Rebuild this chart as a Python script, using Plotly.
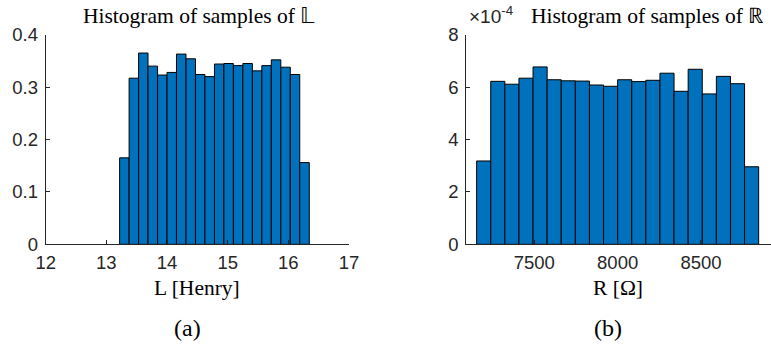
import plotly.graph_objects as go
import numpy as np

# ---------------- data ----------------
L_bin_edges = [13.219, 13.375, 13.531, 13.687, 13.844, 14.000, 14.156, 14.313,
               14.469, 14.625, 14.782, 14.938, 15.094, 15.250, 15.407, 15.563,
               15.719, 15.876, 16.032, 16.188, 16.345]
L_density = [0.165, 0.317, 0.365, 0.340, 0.323, 0.328, 0.363, 0.354, 0.324, 0.320,
             0.344, 0.345, 0.341, 0.345, 0.331, 0.341, 0.352, 0.338, 0.324, 0.156]

R_bin_edges = [7154.0, 7238.6, 7323.2, 7407.8, 7492.4, 7577.0, 7661.6, 7746.2,
               7830.8, 7915.4, 8000.0, 8084.6, 8169.2, 8253.8, 8338.4, 8423.0,
               8507.6, 8592.2, 8676.8, 8761.4, 8846.0]
R_density = [3.18e-4, 6.22e-4, 6.11e-4, 6.34e-4, 6.77e-4, 6.28e-4, 6.24e-4, 6.23e-4,
             6.08e-4, 6.03e-4, 6.28e-4, 6.21e-4, 6.26e-4, 6.53e-4, 5.84e-4, 6.68e-4,
             5.74e-4, 6.41e-4, 6.13e-4, 2.96e-4]

L_xticks = [12, 13, 14, 15, 16, 17]
L_yticks = [0, 0.1, 0.2, 0.3, 0.4]
L_yticktext = ["0", "0.1", "0.2", "0.3", "0.4"]
R_xticks = [7500, 8000, 8500]
R_yticks = [0, 2e-4, 4e-4, 6e-4, 8e-4]
R_yticktext = ["0", "2", "4", "6", "8"]

title_L = "Histogram of samples of \U0001D543"
title_R = "Histogram of samples of \u211D"
xlabel_L = "L [Henry]"
xlabel_R = "R [\u03A9]"

# ---------------- figure ----------------
W, H = 771, 345
BAR = "#0072BD"
INK = "#262626"
SERIF = "Liberation Serif, Times New Roman, serif"
SANS = "Liberation Sans, Arial, sans-serif"

def centers_widths(edges):
    e = np.asarray(edges, dtype=float)
    return (e[:-1] + e[1:]) / 2, np.diff(e)

Lc, Lw = centers_widths(L_bin_edges)
Rc, Rw = centers_widths(R_bin_edges)

fig = go.Figure()
fig.add_trace(go.Bar(x=Lc, y=L_density, width=Lw, xaxis="x", yaxis="y",
                     marker=dict(color=BAR, line=dict(color="black", width=1)),
                     showlegend=False))
fig.add_trace(go.Bar(x=Rc, y=R_density, width=Rw, xaxis="x2", yaxis="y2",
                     marker=dict(color=BAR, line=dict(color="black", width=1)),
                     showlegend=False))

def px_x(p):
    return p / W

def px_y(p):
    return 1 - p / H

y_dom = [px_y(244.3), px_y(34.7)]
axis_common = dict(showline=True, linecolor=INK, linewidth=1, ticks="inside",
                   ticklen=4, tickcolor=INK, showgrid=False, zeroline=False,
                   automargin=False,
                   tickfont=dict(family=SANS, size=18.5, color=INK))

fig.update_layout(
    width=W, height=H, margin=dict(l=0, r=0, t=0, b=0, pad=0, autoexpand=False),
    paper_bgcolor="white", plot_bgcolor="white",
    xaxis=dict(domain=[px_x(45.7), px_x(349)], range=[12, 17], tickvals=L_xticks,
               anchor="y", ticklabelstandoff=1, **axis_common),
    yaxis=dict(domain=y_dom, range=[0, 0.4], tickvals=L_yticks, ticktext=L_yticktext,
               anchor="x", ticklabelstandoff=3, **axis_common),
    xaxis2=dict(domain=[px_x(466.3), 1.0], range=[7092, 8920], tickvals=R_xticks,
                anchor="y2", ticklabelstandoff=1, **axis_common),
    yaxis2=dict(domain=y_dom, range=[0, 8e-4], tickvals=R_yticks, ticktext=R_yticktext,
                anchor="x2", ticklabelstandoff=3, **axis_common),
)

ann = []
def add_text(text, x, y, size, family=SERIF):
    ann.append(dict(text=text, x=px_x(x), y=px_y(y), xref="paper", yref="paper",
                    xanchor="center", yanchor="middle", showarrow=False,
                    font=dict(family=family, size=size, color="black")))

add_text(title_L, 199, 16.5, 21.5)
add_text(title_R, 647.5, 16.5, 21.5)
add_text(xlabel_L, 196.5, 288, 21.5)
add_text(xlabel_R, 617.7, 288, 21.5)
add_text("(a)", 187, 328, 24)
add_text("(b)", 608, 328, 24)
ann.append(dict(text="\u00d710<sup>-4</sup>", x=px_x(467), y=px_y(15), xref="paper",
                yref="paper", xanchor="left", yanchor="middle", showarrow=False,
                font=dict(family=SANS, size=19, color=INK)))
fig.update_layout(annotations=ann)

fig.write_html("out.html")
